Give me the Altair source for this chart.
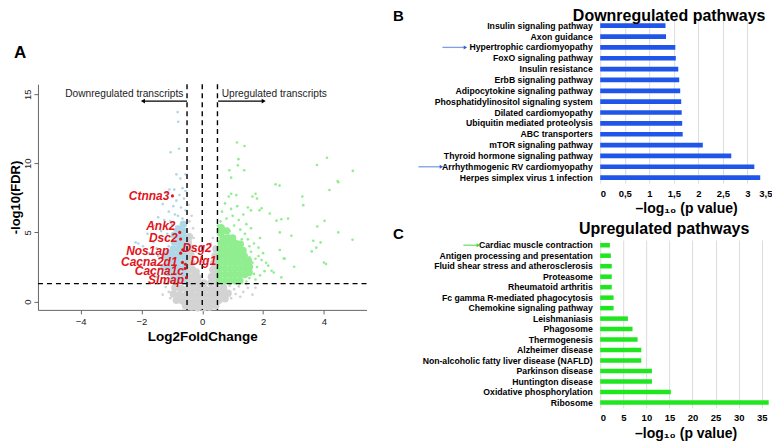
import altair as alt
import pandas as pd

FONT = "Liberation Sans"

# ---------------- Panel A : volcano plot ----------------
# dense cores (drawn with larger dots)
gray_core_x = [-0.55, -0.35, -0.15, 0.05, 0.25, 0.45,
               -0.85, -0.65, -0.45, -0.25, -0.05, 0.15, 0.35, 0.55, 0.75,
               -0.95, -0.75, -0.55, -0.35, -0.15, 0.05, 0.25, 0.45, 0.65, 0.85,
               -0.9, -0.7, -0.5, -0.3, -0.1, 0.1, 0.3, 0.5, 0.7,
               -0.45, -0.3, -0.12, 0.05, 0.28, 0.45,
               -0.45, -0.3, -0.14, 0.3, 0.45,
               -0.45, -0.32, -0.2, 0.35, 0.47,
               -0.45, -0.35, 0.38, 0.48,
               -0.45, -0.37, 0.42,
               -0.46, -0.4, 0.45,
               -0.46, -0.42]
gray_core_y = [-0.3, -0.4, -0.45, -0.45, -0.4, -0.3,
               0.1, 0.05, 0.0, 0.0, 0.0, 0.0, 0.05, 0.1, 0.2,
               0.55, 0.5, 0.45, 0.45, 0.45, 0.45, 0.45, 0.5, 0.55, 0.6,
               1.0, 0.95, 0.9, 0.9, 0.9, 0.9, 0.9, 0.95, 1.0,
               1.35, 1.35, 1.3, 1.35, 1.35, 1.4,
               1.8, 1.8, 1.75, 1.8, 1.85,
               2.3, 2.3, 2.15, 2.3, 2.35,
               2.8, 2.8, 2.8, 2.85,
               3.3, 3.35, 3.3,
               3.8, 3.9, 3.8,
               4.3, 4.7]
blue_core_x = [-0.6, -0.78, -0.96,
               -0.6, -0.78, -0.96, -1.12,
               -0.6, -0.78, -0.96, -1.12, -1.26,
               -0.6, -0.78, -0.96, -1.12,
               -0.6, -0.78, -0.96, -1.1, -1.24,
               -0.6, -0.78, -0.95,
               -0.6, -0.76, -0.92,
               -0.6, -0.75, -0.92,
               -0.62, -0.78,
               -0.62]
blue_core_y = [1.5, 1.5, 1.55,
               1.95, 1.95, 2.0, 2.1,
               2.4, 2.4, 2.45, 2.6, 2.5,
               2.85, 2.85, 2.9, 3.05,
               3.3, 3.3, 3.35, 3.5, 3.3,
               3.75, 3.75, 3.8,
               4.2, 4.2, 4.3,
               4.65, 4.7, 4.8,
               5.1, 5.25,
               5.6]
green_core_x = [0.58, 0.75, 0.92, 1.08, 1.24,
                0.58, 0.75, 0.92, 1.08, 1.24, 1.4, 1.54,
                0.58, 0.75, 0.92, 1.08, 1.24, 1.4, 1.55,
                0.58, 0.75, 0.92, 1.08, 1.24, 1.4, 1.52,
                0.58, 0.75, 0.92, 1.08, 1.24, 1.38,
                0.6, 0.76, 0.92, 1.08, 1.22, 1.34,
                0.62, 0.78, 0.95, 1.1, 1.25,
                0.6, 0.68, 0.86, 1.0,
                0.62, 0.8]
green_core_y = [1.5, 1.5, 1.5, 1.5, 1.5,
                1.95, 1.95, 1.95, 1.95, 1.95, 1.95, 2.1,
                2.4, 2.4, 2.4, 2.4, 2.4, 2.4, 2.5,
                2.85, 2.85, 2.85, 2.85, 2.85, 2.85, 2.95,
                3.3, 3.3, 3.3, 3.3, 3.3, 3.3,
                3.75, 3.75, 3.75, 3.75, 3.75, 3.7,
                4.2, 4.2, 4.2, 4.2, 4.15,
                4.95, 4.6, 4.6, 4.6,
                5.35, 5.1]

# scattered single genes
gray_x = [0.9, 1.05, 1.2, 1.35, 1.5, 1.65, 1.25, 0.95, 1.1, 1.45, 1.75,
          -1.1, -1.2, -1.05, -1.3, -0.2, 0.2,
          -0.3, -0.35, -0.45, -0.28, -0.2, -0.1, 0.22, 0.28, 0.35, 0.15, -0.42]
gray_y = [1.15, 0.9, 1.1, 0.7, 1.0, 0.5, 0.35, 0.25, 0.55, 1.25, 1.0,
          0.7, 1.05, 0.25, 0.5, -0.6, -0.55,
          5.3, 6.2, 7.0, 4.6, 3.6, 2.9, 3.6, 4.2, 4.6, 2.9, 5.8]
blue_x = [-0.81, -0.79, -1.04, -0.76, -0.85, -0.55, -0.72, -1.08, -0.92, -0.65, -0.55,
          -1.15, -0.75, -0.6, -0.85, -1.3, -0.95, -0.7, -1.1, -0.55, -0.9, -1.45, -0.8,
          -1.25, -0.65, -1.05, -1.6, -1.0, -0.55, -0.85, -1.8, -1.35, -0.9, -1.15,
          -2.19, -2.1, -1.95, -1.6, -1.2, -1.4, -1.75, -1.5, -1.3, -1.9, -1.6, -1.4,
          -1.25, -1.5, -1.2, -1.35, -1.7, -1.1, -1.25, -1.45, -1.2]
blue_y = [13.7, 13.0, 10.8, 11.05, 9.2, 9.2, 8.9, 8.1, 8.1, 8.2, 8.0,
          7.85, 7.7, 7.45, 7.3, 7.05, 6.9, 6.8, 6.5, 6.6, 6.3, 6.1, 6.2,
          5.9, 6.0, 5.8, 5.5, 5.55, 5.5, 5.4, 4.9, 5.1, 5.15, 4.9,
          4.28, 4.2, 4.0, 4.3, 4.5, 4.6, 3.5, 3.85, 3.2, 3.0, 2.7, 2.4,
          2.0, 1.8, 1.6, 1.45, 2.2, 4.0, 3.7, 3.3, 2.8]
green_x = [1.14, 1.39, 1.19, 1.17, 0.89, 1.38, 0.95, 4.1, 3.77, 4.95, 4.47, 4.18,
           2.41, 2.54, 3.29, 3.32, 0.87, 0.95, 1.12, 1.65, 1.75, 1.8, 1.5, 1.95, 1.6,
           1.88, 2.22, 2.44, 2.6, 2.82, 4.02, 3.78, 2.55, 2.93, 4.47, 4.94, 3.89, 2.55,
           3.6, 2.68, 4.07, 3.02, 2.6, 2.28, 2.35, 1.85, 1.95, 2.1, 2.17, 3.65, 3.75,
           4.0, 2.71, 4.45,
           0.55, 0.7, 0.9, 1.05, 1.25, 1.4, 0.6, 0.8, 1.0, 1.2, 1.35, 0.65, 0.95, 1.15,
           0.75, 1.5, 1.55, 1.6, 1.55, 1.65, 1.6, 1.7, 1.55, 1.45, 1.75, 1.8, 1.75,
           1.7, 1.85, 1.45, 1.6, 1.3, 0.52, 1.9, 2.0, 2.05, 1.9]
green_y = [11.5, 11.25, 10.3, 9.85, 9.5, 9.5, 8.96, 10.4, 9.88, 9.45, 8.63, 8.07,
           8.48, 8.39, 7.6, 6.97, 7.6, 7.8, 7.7, 7.6, 7.8, 7.45, 6.8, 6.75, 6.6,
           6.6, 6.37, 5.85, 5.95, 6.0, 5.84, 5.43, 5.0, 4.76, 5.0, 4.47, 4.28, 3.73,
           3.63, 3.12, 2.72, 2.52, 1.75, 2.23, 2.1, 3.3, 3.0, 2.8, 2.6, 4.4, 3.9,
           2.83, 3.1, 8.72,
           5.0, 5.3, 5.1, 5.5, 5.2, 4.9, 5.8, 6.0, 6.2, 5.9, 6.3, 6.5, 6.7, 6.9,
           7.1, 4.5, 4.0, 3.6, 3.2, 2.8, 2.4, 2.0, 1.7, 1.45, 1.6, 2.5, 3.1,
           4.2, 3.9, 5.6, 5.3, 4.5, 5.5, 4.6, 3.5, 2.2, 1.9]

# highlighted genes: dot position and label anchor
genes = ["Ctnna3", "Ank2", "Dsc2", "Nos1ap", "Cacna2d1", "Cacna1c", "Slmap", "Dsg2", "Dlg1"]
gene_x = [-0.98, -0.74, -0.71, -0.71, -0.65, -0.56, -0.52, -0.64, -0.55]
gene_y = [7.64, 5.0, 4.52, 3.5, 2.83, 2.4, 1.73, 3.75, 2.7]
label_x = [-1.08, -0.88, -0.81, -1.08, -0.81, -0.6, -0.6, -0.65, -0.39]
label_y = [7.64, 5.43, 4.61, 3.63, 2.88, 2.24, 1.56, 3.91, 2.9]
label_side = ["right", "right", "right", "right", "right", "right", "right", "left", "left"]

fc_cuts = [-0.5, 0.0, 0.5]
fdr_cut = [1.3]
x_ticks = [-4, -2, 0, 2, 4]
y_ticks = [0, 5, 10, 15]

annot_text = ["Downregulated transcripts", "Upregulated transcripts"]
annot_x = [-0.62, 0.64]
annot_y = [15.02, 15.02]
annot_side = ["right", "left"]
arrow_from = [-0.5, 0.52]
arrow_to = [-1.95, 2.02]
arrow_y = [14.5, 14.5]
arrow_dir = ["left", "right"]

groups = ["ns", "down", "up"]
group_colors = ["#d3d3d3", "#add8e6", "#90ee90"]


def pts(xs, ys, grp):
    return pd.DataFrame({"lfc": xs, "nl": ys, "group": grp})


core_df = pd.concat([pts(gray_core_x, gray_core_y, "ns"),
                     pts(blue_core_x, blue_core_y, "down"),
                     pts(green_core_x, green_core_y, "up")], ignore_index=True)
sparse_df = pd.concat([pts(gray_x, gray_y, "ns"),
                       pts(blue_x, blue_y, "down"),
                       pts(green_x, green_y, "up")], ignore_index=True)
gene_df = pd.DataFrame({"gene": genes, "lfc": gene_x, "nl": gene_y,
                        "lx": label_x, "ly": label_y, "side": label_side})
annot_df = pd.DataFrame({"text": annot_text, "x": annot_x, "y": annot_y, "side": annot_side})
arrow_df = pd.DataFrame({"x": arrow_from, "x2": arrow_to, "y": arrow_y, "dir": arrow_dir})

xsc = alt.Scale(domain=[-5.4, 5.4], nice=False, zero=False)
ysc = alt.Scale(domain=[-0.6, 15.72], nice=False, zero=False)
col = alt.Color("group:N", scale=alt.Scale(domain=groups, range=group_colors), legend=None)

xax = alt.Axis(values=x_ticks, title="Log2FoldChange", grid=False, tickSize=4,
               tickColor="#666", domainColor="#666", labelColor="#222", labelFontSize=9.5,
               labelPadding=3, titleFontSize=13.5, titleFontWeight="bold",
               titleColor="black", titlePadding=3)
yax = alt.Axis(values=y_ticks, title="-log10(FDR)", grid=False, tickSize=4,
               tickColor="#666", domainColor="#666", labelColor="#222", labelFontSize=9.5,
               labelAngle=270, labelAlign="center", labelBaseline="bottom", labelPadding=1,
               titleFontSize=13, titleFontWeight="bold", titleColor="black", titlePadding=0)

core = alt.Chart(core_df).mark_circle(size=55, opacity=1).encode(
    x=alt.X("lfc:Q", scale=xsc, axis=xax),
    y=alt.Y("nl:Q", scale=ysc, axis=yax),
    color=col)
sparse = alt.Chart(sparse_df).mark_circle(size=7, opacity=1).encode(
    x=alt.X("lfc:Q", scale=xsc), y=alt.Y("nl:Q", scale=ysc), color=col)
gene_dots = alt.Chart(gene_df).mark_circle(size=10, opacity=1, color="#e3141b").encode(
    x=alt.X("lfc:Q", scale=xsc), y=alt.Y("nl:Q", scale=ysc))

dash = dict(strokeDash=[5, 4], color="black", strokeWidth=1.4)
vrules = alt.Chart(pd.DataFrame({"v": fc_cuts})).mark_rule(**dash).encode(
    x=alt.X("v:Q", scale=xsc))
hrule = alt.Chart(pd.DataFrame({"h": fdr_cut})).mark_rule(**dash).encode(
    y=alt.Y("h:Q", scale=ysc))

lab_style = dict(fontSize=12, fontWeight="bold", fontStyle="italic", color="#e3141b",
                 baseline="middle")
gene_r = alt.Chart(gene_df).transform_filter(alt.datum.side == "right").mark_text(
    align="right", **lab_style).encode(
    x=alt.X("lx:Q", scale=xsc), y=alt.Y("ly:Q", scale=ysc), text="gene:N")
gene_l = alt.Chart(gene_df).transform_filter(alt.datum.side == "left").mark_text(
    align="left", **lab_style).encode(
    x=alt.X("lx:Q", scale=xsc), y=alt.Y("ly:Q", scale=ysc), text="gene:N")

ann_style = dict(fontSize=10.2, color="#222", baseline="middle")
ann_r = alt.Chart(annot_df).transform_filter(alt.datum.side == "right").mark_text(
    align="right", **ann_style).encode(
    x=alt.X("x:Q", scale=xsc), y=alt.Y("y:Q", scale=ysc), text="text:N")
ann_l = alt.Chart(annot_df).transform_filter(alt.datum.side == "left").mark_text(
    align="left", **ann_style).encode(
    x=alt.X("x:Q", scale=xsc), y=alt.Y("y:Q", scale=ysc), text="text:N")
arr_line = alt.Chart(arrow_df).mark_rule(color="black", strokeWidth=1.2).encode(
    x=alt.X("x:Q", scale=xsc), x2="x2:Q", y=alt.Y("y:Q", scale=ysc))
arr_head = alt.Chart(arrow_df).mark_point(filled=True, size=22, color="black", opacity=1).encode(
    x=alt.X("x2:Q", scale=xsc), y=alt.Y("y:Q", scale=ysc),
    shape=alt.Shape("dir:N", scale=alt.Scale(domain=["left", "right"],
                                             range=["triangle-left", "triangle-right"]),
                    legend=None))

volcano = alt.layer(core, sparse, vrules, hrule, gene_dots, gene_r, gene_l,
                    ann_r, ann_l, arr_line, arr_head).properties(width=329, height=226)

# spacer above the volcano carrying the panel letter
letter_a = alt.Chart(pd.DataFrame({"t": ["A"]})).mark_text(
    fontSize=17, fontWeight="bold", color="black", align="left", baseline="middle"
).encode(x=alt.value(-24), y=alt.value(33), text="t:N").properties(width=329, height=53)

left = alt.vconcat(letter_a, volcano, spacing=10)

# ---------------- Panels B and C : pathway bars ----------------
down_paths = ["Insulin signaling pathway", "Axon guidance", "Hypertrophic cardiomyopathy",
              "FoxO signaling pathway", "Insulin resistance", "ErbB signaling pathway",
              "Adipocytokine signaling pathway", "Phosphatidylinositol signaling system",
              "Dilated cardiomyopathy", "Ubiquitin mediated proteolysis", "ABC transporters",
              "mTOR signaling pathway", "Thyroid hormone signaling pathway",
              "Arrhythmogenic RV cardiomyopathy", "Herpes simplex virus 1 infection"]
down_vals = [1.33, 1.34, 1.53, 1.54, 1.59, 1.61, 1.63, 1.65, 1.66, 1.67, 1.68,
             2.09, 2.67, 3.14, 3.26]
down_ticks = [0, 0.5, 1, 1.5, 2, 2.5, 3, 3.5]

up_paths = ["Cardiac muscle contraction", "Antigen processing and presentation",
            "Fluid shear stress and atherosclerosis", "Proteasome", "Rheumatoid arthritis",
            "Fc gamma R-mediated phagocytosis", "Chemokine signaling pathway", "Leishmaniasis",
            "Phagosome", "Thermogenesis", "Alzheimer disease",
            "Non-alcoholic fatty liver disease (NAFLD)", "Parkinson disease",
            "Huntington disease", "Oxidative phosphorylation", "Ribosome"]
up_vals = [2.1, 2.3, 2.5, 2.5, 2.5, 2.9, 2.9, 6.0, 7.0, 8.1, 8.9, 8.9, 11.2, 11.2, 15.3, 36.5]
up_ticks = [0, 5, 10, 15, 20, 25, 30, 35]

axis_title = "\u2013log\u2081\u2080 (p value)"


def bar_panel(paths, vals, ticks, xmax, width, height, color, title, title_x, title_y,
              letter, letter_y, arrows, arrow_line_color, arrow_head_color):
    df = pd.DataFrame({"path": paths, "val": vals})
    ysc_b = alt.Scale(domain=paths, paddingInner=0.57, paddingOuter=0.285)
    yax_b = alt.Axis(title=None, labelFontSize=8.7, labelFontWeight="bold",
                     labelColor="black", ticks=False, domain=False, labelPadding=8,
                     labelLimit=400, grid=False)
    xax_b = alt.Axis(values=ticks, title=axis_title, grid=True, gridColor="#dcdcdc",
                     domain=False, ticks=False, labelFontWeight="bold", labelFontSize=9.5,
                     labelColor="black", labelPadding=5,
                     labelExpr="replace(toString(datum.value), '.', ',')",
                     titleFontSize=14, titleFontWeight="bold", titleColor="black",
                     titlePadding=4)
    bars = alt.Chart(df).mark_bar(color=color).encode(
        y=alt.Y("path:N", sort=paths, scale=ysc_b, axis=yax_b),
        x=alt.X("val:Q", scale=alt.Scale(domain=[0, xmax], nice=False), axis=xax_b))
    layers = [bars]
    for name, x1, x2 in arrows:
        sub = alt.Chart(df).transform_filter(alt.datum.path == name)
        layers.append(sub.mark_rule(color=arrow_line_color, strokeWidth=1.3).encode(
            y=alt.Y("path:N", sort=paths, scale=ysc_b), x=alt.value(x1), x2=alt.value(x2)))
        layers.append(sub.mark_point(shape="triangle-right", filled=True, size=16,
                                     color=arrow_head_color, opacity=1).encode(
            y=alt.Y("path:N", sort=paths, scale=ysc_b), x=alt.value(x2)))
    heads = alt.Chart(pd.DataFrame({"t": [letter], "title": [title]}))
    layers.append(heads.mark_text(
        fontSize=15, fontWeight="bold", color="black", align="center",
        baseline="top").encode(x=alt.value(-202), y=alt.value(letter_y), text="t:N"))
    layers.append(heads.mark_text(
        fontSize=16, fontWeight="bold", color="black", align="center",
        baseline="top").encode(x=alt.value(title_x), y=alt.value(title_y), text="title:N"))
    return alt.layer(*layers).properties(width=width, height=height)


panel_b = bar_panel(down_paths, down_vals, down_ticks, 3.5, 172, 163, "#1f55e8",
                    "Downregulated pathways", 69, -12, "B", -11,
                    [("Hypertrophic cardiomyopathy", -158, -135),
                     ("Arrhythmogenic RV cardiomyopathy", -182, -159)],
                    "#7e9ee6", "#2d5fe0")
panel_c = bar_panel(up_paths, up_vals, up_ticks, 37, 171, 168, "#1fe61f",
                    "Upregulated pathways", 64, -19, "C", -13,
                    [("Cardiac muscle contraction", -137, -122)],
                    "#6fe06f", "#3bdc3b")

right = alt.vconcat(panel_b, panel_c, spacing=5)

chart = alt.hconcat(left, right, spacing=25).properties(
    padding={"left": 2, "top": 0, "right": 0, "bottom": 0}
).configure(font=FONT).configure_view(stroke=None)

chart.save("out.html", embed_options={"renderer": "svg", "actions": False})
